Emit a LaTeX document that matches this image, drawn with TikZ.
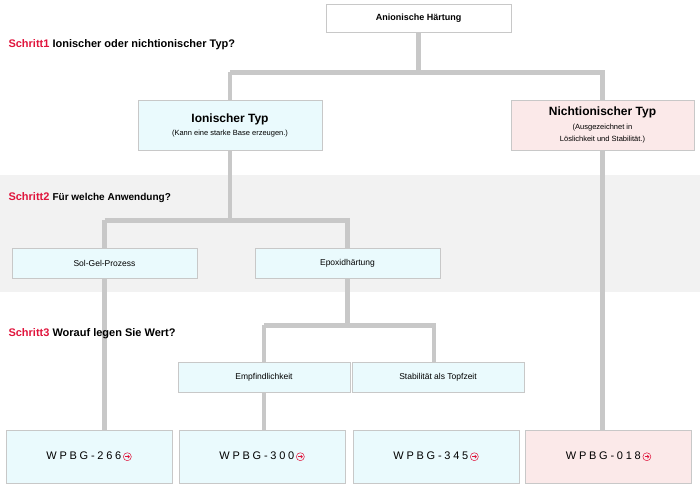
\documentclass[tikz,border=0pt]{standalone}
\usepackage{fontspec}
\setmainfont{Liberation Sans}
\usetikzlibrary{calc,arrows.meta}
\definecolor{linegray}{HTML}{C8C8C8}
\definecolor{boxcyan}{HTML}{EAFAFD}
\definecolor{boxpink}{HTML}{FBE9E9}
\definecolor{stepred}{HTML}{E0143C}
\tikzset{
  box/.style={draw=linegray, line width=0.8pt, minimum height=#1, inner sep=1pt, align=center},
  box/.default=30pt,
  conn/.style={draw=linegray, line width=4.5pt},
  steplabel/.style={anchor=west, font=\bfseries\fontsize{11}{13}\selectfont},
  prod/.style={box=53pt, minimum width=166pt, font=\fontsize{11}{13}\selectfont},
}
\newcommand{\go}{\tikz[baseline=-3pt]{\draw[stepred,line width=0.5pt] (0,0) circle (4pt);
  \draw[stepred,line width=0.7pt,-{Straight Barb[length=1.5pt]}] (-2pt,0) -- (2.5pt,0);}}
\newcommand{\prodname}[1]{\addfontfeature{LetterSpace=25}#1\,\go}
\begin{document}
\begin{tikzpicture}[x=1pt,y=-1pt]
  \useasboundingbox (0,0) rectangle (700,491);
  % background band
  \fill[gray!10] (0,175) rectangle (700,292);

  % boxes
  \node[box=28pt, minimum width=185pt, fill=white, font=\bfseries\fontsize{9}{11}\selectfont] (root) at (418.5,18) {Anionische Härtung};
  \node[box=50pt, minimum width=184pt, fill=boxcyan] (ion) at (230,125)
    {{\bfseries\fontsize{12}{14}\selectfont Ionischer Typ}\\[1pt]{\fontsize{7.5}{9}\selectfont (Kann eine starke Base erzeugen.)}};
  \node[box=50pt, minimum width=183pt, fill=boxpink] (nion) at (602.5,125)
    {{\bfseries\fontsize{12}{14}\selectfont Nichtionischer Typ}\\[2pt]{\fontsize{7.5}{9}\selectfont (Ausgezeichnet in}\\{\fontsize{7.5}{9}\selectfont Löslichkeit und Stabilität.)}};
  \node[box, minimum width=185pt, fill=boxcyan, font=\fontsize{8.5}{10}\selectfont] (sol) at (104.5,263) {Sol-Gel-Prozess};
  \node[box, minimum width=185pt, fill=boxcyan, font=\fontsize{8.5}{10}\selectfont] (epo) at (347.5,263) {Epoxidhärtung};
  \node[box, minimum width=172pt, fill=boxcyan, font=\fontsize{8.5}{10}\selectfont] (emp) at (264,377) {Empfindlichkeit};
  \node[box, minimum width=172pt, fill=boxcyan, font=\fontsize{8.5}{10}\selectfont] (sta) at (438,377) {Stabilität als Topfzeit};
  \node[prod, fill=boxcyan] (p266) at (89,456.5) {\prodname{WPBG-266}};
  \node[prod, fill=boxcyan] (p300) at (262,456.5) {\prodname{WPBG-300}};
  \node[prod, fill=boxcyan] (p345) at (436,456.5) {\prodname{WPBG-345}};
  \node[prod, fill=boxpink] (p018) at (608.5,456.5) {\prodname{WPBG-018}};

  % connectors
  \draw[conn] (root.south) -- ++(0,40) coordinate (j1);
  \draw[conn] (ion.north |- j1) -- (j1) -| (nion.north);
  \draw[conn] (ion.north |- j1) -- (ion.north);
  \draw[conn] (ion.south) -- ++(0,70) coordinate (j2);
  \draw[conn] (sol.north |- j2) -- (j2) -| (epo.north);
  \draw[conn] (sol.north |- j2) -- (sol.north);
  \draw[conn] (epo.south) -- ++(0,47) coordinate (j3);
  \draw[conn] (emp.north |- j3) -- (emp.north);
  \draw[conn] (emp.north |- j3) -- (j3) -| ($(sta.north)+(-4,0)$);
  \draw[conn] (sol.south) -- (p266.north -| sol.south);
  \draw[conn] (emp.south) -- (p300.north -| emp.south);
  \draw[conn] ($(sta.south)+(-4,0)$) -- ($(sta.south)+(-4,0)$ |- p345.north);
  \draw[conn] (nion.south) -- (p018.north -| nion.south);

  % step labels
  \node[steplabel] (s1) at (5,45) {\textcolor{stepred}{Schritt1} Ionischer oder nichtionischer Typ?};
  \node[steplabel] (s2) at (5,198) {\textcolor{stepred}{Schritt2} \fontsize{10}{12}\selectfont Für welche Anwendung?};
  \node[steplabel] (s3) at (5,334) {\textcolor{stepred}{Schritt3} Worauf legen Sie Wert?};
\end{tikzpicture}
\end{document}
